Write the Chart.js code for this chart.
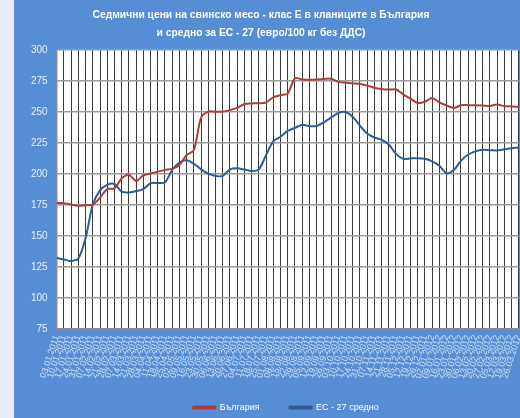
<!DOCTYPE html>
<html>
<head>
<meta charset="utf-8">
<script src="https://cdn.jsdelivr.net/npm/chart.js@4.4.1/dist/chart.umd.min.js"></script>
<style>
  html, body { margin: 0; padding: 0; background: #e8eef8; overflow: hidden; }
  #grafico { position: absolute; left: 14px; top: 0; background: #558ed5; }
</style>
</head>
<body>
<canvas id="grafico" width="520" height="418"></canvas>
<script>
// седмици (етикети на оста X)
const etiquetas = [
  '03.01.2011', '10.01.2011', '17.01.2011', '24.01.2011', '31.01.2011', '07.02.2011', '14.02.2011',
  '21.02.2011', '28.02.2011', '07.03.2011', '14.03.2011', '21.03.2011', '28.03.2011', '04.04.2011',
  '11.04.2011', '18.04.2011', '25.04.2011', '02.05.2011', '09.05.2011', '16.05.2011', '23.05.2011',
  '30.05.2011', '06.06.2011', '13.06.2011', '20.06.2011', '27.06.2011', '04.07.2011', '11.07.2011',
  '18.07.2011', '25.07.2011', '01.08.2011', '08.08.2011', '15.08.2011', '22.08.2011', '29.08.2011',
  '05.09.2011', '12.09.2011', '19.09.2011', '26.09.2011', '03.10.2011', '10.10.2011', '17.10.2011',
  '24.10.2011', '31.10.2011', '07.11.2011', '14.11.2011', '21.11.2011', '28.11.2011', '05.12.2011',
  '12.12.2011', '19.12.2011', '26.12.2011', '02.01.2012', '09.01.2012', '16.01.2012', '23.01.2012',
  '30.01.2012', '06.02.2012', '13.02.2012', '20.02.2012', '27.02.2012', '05.03.2012', '12.03.2012',
  '19.03.2012', '26.03.2012'
];

const bulgaria = [
  176.5, 176.4, 175.3, 174.3, 174.8, 175.3, 180.8, 187.8, 188.3, 196.3,
  199.3, 194.3, 198.8, 200.3, 201.8, 203.3, 204.3, 207.3, 215.3, 219.3,
  245.3, 250.3, 250.3, 250.3, 251.5, 253.3, 256.5, 256.9, 257.1, 257.7,
  261.8, 263.6, 264.9, 277.3, 276.3, 276.1, 276.3, 276.7, 276.9, 274.3,
  273.7, 273.1, 272.6, 271.3, 269.6, 268.6, 268.1, 268.1, 264.3, 260.8,
  257.3, 258.3, 261.3, 257.8, 255.3, 253.3, 255.5, 255.5, 255.5, 255.3,
  254.9, 256.1, 254.7, 254.5, 254.1
];

const es27 = [
  132.2, 131.0, 129.7, 131.7, 148.2, 175.2, 186.7, 191.2, 191.9, 185.7,
  185.0, 186.2, 187.7, 192.5, 192.7, 193.2, 203.2, 209.2, 211.0, 208.2,
  203.7, 200.2, 198.3, 198.5, 203.7, 204.5, 203.6, 202.4, 203.7, 215.2,
  226.2, 230.0, 234.7, 237.2, 239.7, 238.6, 238.7, 241.7, 245.4, 249.2,
  250.0, 246.2, 239.0, 232.6, 229.4, 227.6, 223.7, 216.2, 212.2, 212.5,
  212.7, 212.2, 210.2, 206.7, 200.6, 203.2, 210.6, 215.7, 218.2, 219.5,
  219.2, 219.0, 219.9, 220.8, 221.4
];

const titulo = [
  'Седмични цени на свинско месо - клас Е в кланиците в България',
  'и средно за ЕС - 27 (евро/100 кг без ДДС)'
];

const fuente = 'Liberation Sans, Arial, sans-serif';

// бял фон на областта с графиката
const fondoArea = {
  id: 'fondoArea',
  beforeDraw(chart) {
    const a = chart.chartArea;
    const ctx = chart.ctx;
    ctx.save();
    ctx.fillStyle = '#ffffff';
    ctx.fillRect(a.left, a.top, a.right - a.left, a.bottom - a.top);
    ctx.restore();
  },
  afterLayout(chart) {
    // leyenda y título un poco corridos como en el original
    chart.legend.left += 16;
    chart.legend.top -= 12;
    chart.titleBlock.left -= 34;
  }
};

const ctx = document.getElementById('grafico').getContext('2d');
new Chart(ctx, {
  type: 'line',
  data: {
    labels: etiquetas,
    datasets: [
      {
        label: 'България',
        data: bulgaria,
        borderColor: '#b03c3a',
        backgroundColor: '#b03c3a',
        borderWidth: 2,
        pointRadius: 0,
        tension: 0.3,
        fill: false
      },
      {
        label: 'ЕС - 27 средно',
        data: es27,
        borderColor: '#2e5c9a',
        backgroundColor: '#2e5c9a',
        borderWidth: 2,
        pointRadius: 0,
        tension: 0.3,
        fill: false
      }
    ]
  },
  options: {
    responsive: false,
    animation: false,
    layout: { padding: { left: 8, right: 0, top: 0, bottom: -6 } },
    plugins: {
      title: {
        display: true,
        text: titulo,
        color: '#ffffff',
        font: { family: fuente, size: 10.3, weight: 'bold', lineHeight: 1.75 },
        padding: { top: 6, bottom: 8 }
      },
      legend: {
        position: 'bottom',
        maxHeight: 39,
        labels: {
          color: '#ffffff',
          font: { family: fuente, size: 9 },
          boxWidth: 22,
          boxHeight: 2,
          padding: 30
        }
      },
      tooltip: { enabled: false }
    },
    scales: {
      x: {
        grid: { color: '#3c3c3c', lineWidth: 1, drawTicks: false },
        border: { color: '#8a8a8a', width: 2 },
        ticks: {
          color: 'rgba(255,255,255,0.72)',
          font: { family: fuente, size: 9 },
          autoSkip: false,
          minRotation: 72,
          maxRotation: 72,
          padding: 5
        }
      },
      y: {
        min: 75,
        max: 300,
        grid: { color: '#9a9a9a', lineWidth: 1.5, drawTicks: false },
        border: { color: '#8a8a8a', width: 1.5 },
        ticks: {
          stepSize: 25,
          color: '#e8eef8',
          font: { family: fuente, size: 10 },
          padding: 9
        }
      }
    }
  },
  plugins: [fondoArea]
});
</script>
</body>
</html>
